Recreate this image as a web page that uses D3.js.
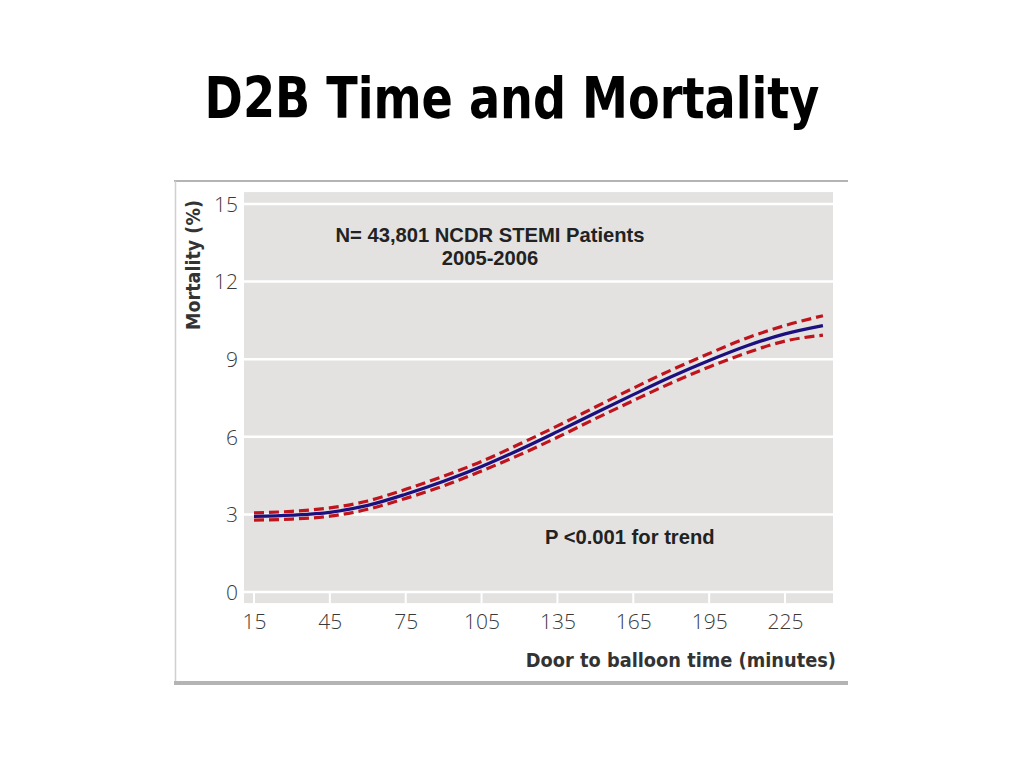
<!DOCTYPE html>
<html>
<head>
<meta charset="utf-8">
<script src="https://cdn.jsdelivr.net/npm/d3@7"></script>
<style>
  body { margin: 0; background: #fff; }
</style>
</head>
<body>
<div id="chart"></div>
<script>
var svgWidth = 1024;
var svgHeight = 768;

// door to balloon time (minutes)
var times = [15, 30, 45, 60, 75, 90, 105, 120, 135, 150, 165, 180, 195, 210, 225, 240];
// mortality (%) fitted curve and confidence limits
var mortality = [2.92, 2.97, 3.08, 3.35, 3.78, 4.28, 4.85, 5.5, 6.2, 6.92, 7.63, 8.32, 8.95, 9.52, 9.98, 10.3];
var upper = [3.06, 3.12, 3.25, 3.52, 3.97, 4.48, 5.05, 5.72, 6.42, 7.15, 7.88, 8.58, 9.22, 9.82, 10.3, 10.68];
var lower = [2.78, 2.82, 2.93, 3.2, 3.62, 4.1, 4.68, 5.3, 5.98, 6.7, 7.4, 8.08, 8.7, 9.25, 9.7, 9.93];

var xTicks = [15, 45, 75, 105, 135, 165, 195, 225];
var yTicks = [0, 3, 6, 9, 12, 15];

var svg = d3.select("#chart")
  .append("svg")
  .attr("width", svgWidth)
  .attr("height", svgHeight);

// slide title (condensed a little to match the slide font)
svg.append("text")
  .attr("transform", "translate(512, 118) scale(0.9, 1)")
  .attr("text-anchor", "middle")
  .style("font-family", "DejaVu Sans Condensed, DejaVu Sans")
  .style("font-weight", "bold")
  .style("font-size", "57px")
  .text("D2B Time and Mortality");

// figure frame
svg.append("line")
  .attr("x1", 174).attr("x2", 848)
  .attr("y1", 181).attr("y2", 181)
  .attr("stroke", "#b4b4b4").attr("stroke-width", 2);
svg.append("line")
  .attr("x1", 175.5).attr("x2", 175.5)
  .attr("y1", 181).attr("y2", 683)
  .attr("stroke", "#d0d0d0").attr("stroke-width", 1.5);
svg.append("line")
  .attr("x1", 174).attr("x2", 848)
  .attr("y1", 683).attr("y2", 683)
  .attr("stroke", "#b4b4b4").attr("stroke-width", 4);

var xScale = d3.scaleLinear().domain([15, 225]).range([254, 785]);
var yScale = d3.scaleLinear().domain([0, 15]).range([592, 204]);

var xMin = xScale.invert(244), xMax = xScale.invert(833);

// plot background
svg.append("rect")
  .attr("x", xScale(xMin))
  .attr("y", yScale(15.46))
  .attr("width", xScale(xMax) - xScale(xMin))
  .attr("height", yScale(-0.43) - yScale(15.46))
  .attr("fill", "#e3e2e1");

// white grid lines
svg.append("g")
  .selectAll("line")
  .data(yTicks)
  .enter()
  .append("line")
  .attr("x1", xScale(xMin))
  .attr("x2", xScale(xMax))
  .attr("y1", d => yScale(d))
  .attr("y2", d => yScale(d))
  .attr("stroke", "#fff")
  .attr("stroke-width", 2.5);

// white x ticks in the bottom strip
svg.append("g")
  .selectAll("line")
  .data(xTicks)
  .enter()
  .append("line")
  .attr("x1", d => xScale(d))
  .attr("x2", d => xScale(d))
  .attr("y1", yScale(0))
  .attr("y2", yScale(-0.43))
  .attr("stroke", "#fff")
  .attr("stroke-width", 2);

// axes (labels only)
var bottomAxis = d3.axisBottom(xScale).tickValues(xTicks).tickSize(0).tickPadding(0);
var leftAxis = d3.axisLeft(yScale).tickValues(yTicks).tickSize(0).tickPadding(0);

var xAxis = svg.append("g")
  .attr("transform", "translate(0, 629)")
  .call(bottomAxis);
xAxis.select(".domain").remove();
xAxis.selectAll("text")
  .attr("dy", 0)
  .style("font-family", "Open Sans")
  .style("font-weight", "300")
  .style("font-size", "21px")
  .style("fill", "#3a3a3a");

var yAxis = svg.append("g")
  .attr("transform", "translate(238, 0)")
  .call(leftAxis);
yAxis.select(".domain").remove();
yAxis.selectAll("text")
  .attr("dy", "0.35em")
  .style("font-family", "Open Sans")
  .style("font-weight", "300")
  .style("font-size", "21px")
  .style("fill", "#3a3a3a");

// axis titles
svg.append("text")
  .attr("transform", "translate(200, 265) rotate(-90)")
  .attr("text-anchor", "middle")
  .style("font-family", "DejaVu Sans Condensed")
  .style("font-weight", "bold")
  .style("font-size", "19.5px")
  .style("fill", "#333")
  .text("Mortality (%)");

svg.append("text")
  .attr("x", 836)
  .attr("y", 667)
  .attr("text-anchor", "end")
  .style("font-family", "DejaVu Sans Condensed")
  .style("font-weight", "bold")
  .style("font-size", "19.8px")
  .style("fill", "#333")
  .text("Door to balloon time (minutes)");

// curves
var line = d3.line()
  .x((d, i) => xScale(times[i]))
  .y(d => yScale(d))
  .curve(d3.curveMonotoneX);

[upper, lower].forEach(function(band) {
  svg.append("path")
    .attr("d", line(band))
    .attr("fill", "none")
    .attr("stroke", "#c0141c")
    .attr("stroke-width", 3.2)
    .attr("stroke-dasharray", "10,5");
});

svg.append("path")
  .attr("d", line(mortality))
  .attr("fill", "none")
  .attr("stroke", "#1c0f7e")
  .attr("stroke-width", 3.2);

// annotations
var notes = svg.append("g")
  .style("font-family", "Liberation Sans, Arial")
  .style("font-weight", "bold")
  .style("font-size", "20.2px")
  .style("fill", "#222");

notes.append("text")
  .attr("x", 490).attr("y", 242)
  .attr("text-anchor", "middle")
  .text("N= 43,801 NCDR STEMI Patients");
notes.append("text")
  .attr("x", 490).attr("y", 265)
  .attr("text-anchor", "middle")
  .text("2005-2006");
notes.append("text")
  .attr("x", 545).attr("y", 544)
  .text("P <0.001 for trend");
</script>
</body>
</html>
